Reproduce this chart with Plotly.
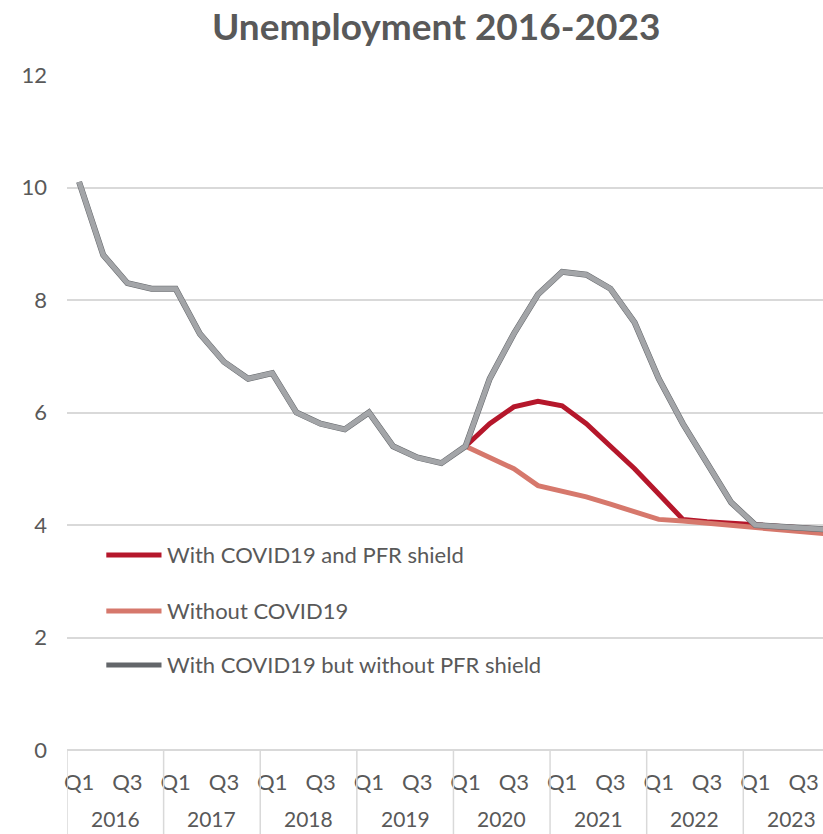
import plotly.graph_objects as go

# Quarterly timeline 2016 Q1 .. 2023 Q4
years = [2016, 2017, 2018, 2019, 2020, 2021, 2022, 2023]
quarters = ["Q1", "Q2", "Q3", "Q4"]
idx = list(range(len(years) * 4))

# Observed unemployment rate 2016 Q1 .. 2020 Q1
history = [10.1, 8.8, 8.3, 8.2, 8.2, 7.4, 6.9, 6.6, 6.7, 6.0, 5.8, 5.7,
           6.0, 5.4, 5.2, 5.1, 5.4]

# Scenario paths 2020 Q2 .. 2023 Q4
with_shield = [5.8, 6.1, 6.2, 6.12, 5.8, 5.4, 5.0, 4.55, 4.1, 4.06, 4.03,
               4.0, 3.97, 3.95, 3.92]
without_covid = [5.2, 5.0, 4.7, 4.6, 4.5, 4.37, 4.23, 4.1, 4.07, 4.03, 4.0,
                 3.95, 3.92, 3.88, 3.84]
without_shield = [6.6, 7.4, 8.1, 8.5, 8.45, 8.2, 7.6, 6.6, 5.8, 5.1, 4.4,
                  4.0, 3.97, 3.95, 3.92]

series_names = ["With COVID19 and PFR shield", "Without COVID19",
                "With COVID19 but without PFR shield"]
series_colors = ["#b5172b", "#d6786c", "#63666a"]

TEXT = "#595959"
GRID = "#d9d9d9"
FONT = "Lato, 'Gill Sans', 'Open Sans', sans-serif"

n_hist = len(history)
scen_x = idx[n_hist - 1:]

fig = go.Figure()
fig.add_trace(go.Scatter(
    x=scen_x, y=[history[-1]] + with_shield, mode="lines",
    name=series_names[0], line=dict(color=series_colors[0], width=5)))
fig.add_trace(go.Scatter(
    x=scen_x, y=[history[-1]] + without_covid, mode="lines",
    name=series_names[1], line=dict(color=series_colors[1], width=5)))
fig.add_trace(go.Scatter(
    x=idx, y=history + without_shield, mode="lines",
    name=series_names[2], line=dict(color=series_colors[2], width=6)))
# lighter core drawn over the grey path
fig.add_trace(go.Scatter(
    x=idx, y=history + without_shield, mode="lines",
    hoverinfo="skip", line=dict(color="#a3a5a8", width=5)))

tickvals = [i for i in idx if i % 4 in (0, 2)]
ticktext = [quarters[i % 4] for i in tickvals]

# year dividers and labels below the axis
shapes = []
annotations = []
for k, yr in enumerate(years):
    shapes.append(dict(type="line", xref="x", yref="paper",
                       x0=4 * k - 0.5, x1=4 * k - 0.5, y0=0, y1=-0.14,
                       line=dict(color=GRID, width=1.5)))
    annotations.append(dict(x=4 * k + 1.5, y=-0.102, xref="x", yref="paper",
                            text=str(yr), showarrow=False, yanchor="middle",
                            font=dict(size=21, color=TEXT, family=FONT)))

# legend drawn inside the plot area
legend_rows = [0.289, 0.206, 0.126]
for name, color, ly in zip(series_names, series_colors, legend_rows):
    shapes.append(dict(type="line", xref="paper", yref="paper",
                       x0=0.052, x1=0.125, y0=ly, y1=ly,
                       line=dict(color=color, width=5)))
    annotations.append(dict(x=0.129, y=ly, xref="paper", yref="paper",
                            text=name, showarrow=False, xanchor="left",
                            yanchor="middle",
                            font=dict(size=22, color=TEXT, family=FONT)))

fig.update_layout(
    width=823, height=834,
    margin=dict(l=67, r=0, t=75, b=84),
    paper_bgcolor="white", plot_bgcolor="white",
    showlegend=False,
    title=dict(text="<b>Unemployment 2016-2023</b>", x=0.53, xanchor="center",
               y=0.968, yanchor="middle",
               font=dict(size=37, color=TEXT, family=FONT)),
    font=dict(family=FONT, color=TEXT, size=22),
    xaxis=dict(range=[-0.5, 30.8], tickvals=tickvals, ticktext=ticktext,
               showgrid=False, zeroline=False, showline=False,
               ticks="", ticklabelstandoff=17,
               tickfont=dict(size=22, color=TEXT)),
    yaxis=dict(range=[0, 12], dtick=2, showgrid=True, gridcolor=GRID,
               gridwidth=1.5, zeroline=True, zerolinecolor=GRID,
               zerolinewidth=1.5, showline=False, ticks="",
               ticklabelstandoff=19, tickfont=dict(size=22, color=TEXT)),
    shapes=shapes, annotations=annotations,
)

fig.write_html("out.html")
